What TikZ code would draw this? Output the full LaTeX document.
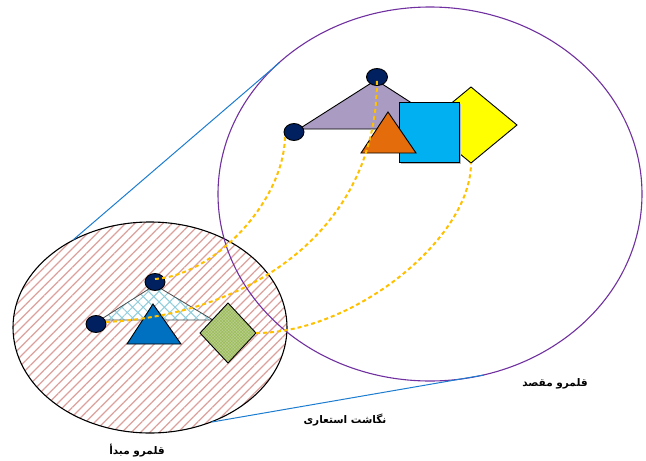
\documentclass[tikz,border=0pt]{standalone}
\usepackage{fontspec}
\newfontfamily\arabicfont[Script=Arabic]{DejaVu Sans}
\TeXXeTstate=1
\usetikzlibrary{patterns.meta}
\definecolor{purpleline}{HTML}{7030A0}
\definecolor{blueline}{HTML}{1C7CD0}
\definecolor{hatchred}{HTML}{DCA09C}
\definecolor{navy}{HTML}{002060}
\definecolor{lavender}{HTML}{A99BC1}
\definecolor{orangef}{HTML}{E46C0A}
\definecolor{cyanf}{HTML}{00B0F0}
\definecolor{yellowf}{HTML}{FFFF00}
\definecolor{bluetri}{HTML}{0070C0}
\definecolor{greenf}{HTML}{B9CF8E}
\definecolor{greendot}{HTML}{9BBB59}
\definecolor{crossblue}{HTML}{92CDDC}
\definecolor{gold}{HTML}{FFC000}
\tikzset{
  shapeline/.style={draw=black, line width=0.9pt},
  dot/.style={shapeline, fill=navy},
  mapcurve/.style={draw=gold, line width=2pt, dash pattern=on 4pt off 3pt},
  tangent/.style={draw=blueline, line width=1pt},
  lab/.style={font=\arabicfont\bfseries\fontsize{10.5}{12}\selectfont, inner sep=0pt}
}
\begin{document}
\begin{tikzpicture}[x=1pt,y=-1pt]
\useasboundingbox (0,0) rectangle (646,461);

% source domain ellipse
\path[pattern={Lines[angle=45,distance=6.6pt,line width=1.2pt]}, pattern color=hatchred]
  (150,327.5) ellipse [x radius=137, y radius=105.5];
\draw[line width=1.1pt] (150,327.5) ellipse [x radius=137, y radius=105.5];

% target domain ellipse
\draw[purpleline, line width=1.1pt] (430,194) ellipse [x radius=212, y radius=187];

% tangent lines
\coordinate (t1a) at (73,240);
\coordinate (t1b) at (279,63);
\coordinate (t2a) at (212,422);
\coordinate (t2b) at (484,375);
\draw[tangent] (t1a) -- (t1b);
\draw[tangent] (t2a) -- (t2b);

% target shapes
\draw[shapeline, fill=lavender] (299,129) -- (376,80) -- (452,129) -- cycle;
\draw[shapeline, fill=yellowf] (471,87) -- (517,125) -- (471,163) -- (425,125) -- cycle;
\fill[gray!55] (401,104) rectangle (461,164);
\draw[shapeline, fill=cyanf] (399,102) rectangle (459,162);
\draw[shapeline, fill=orangef] (361,153) -- (388,112) -- (416,153) -- cycle;
\draw[dot] (377,77) ellipse [x radius=10.5, y radius=8.5];
\draw[dot] (294,132) ellipse [x radius=10, y radius=8.5];

% source shapes
\fill[white] (100,320) -- (155,285) -- (213,320) -- cycle;
\fill[pattern={Hatch[angle=45,distance=7.5pt,line width=1pt]}, pattern color=crossblue]
  (100,320) -- (155,285) -- (213,320) -- cycle;
\draw[draw=black!70, line width=0.8pt] (100,320) -- (155,285) -- (213,320) -- cycle;
\draw[dot] (155,282) ellipse [x radius=10, y radius=8.5];
\draw[dot] (96,324) ellipse [x radius=10, y radius=8.5];
\draw[shapeline, fill=bluetri] (127,344) -- (153,304) -- (181,344) -- cycle;
\fill[greenf] (228,303) -- (256,333) -- (228,363) -- (200,333) -- cycle;
\fill[pattern={Hatch[angle=45,distance=2.2pt,line width=0.5pt]}, pattern color=greendot]
  (228,303) -- (256,333) -- (228,363) -- (200,333) -- cycle;
\draw[shapeline] (228,303) -- (256,333) -- (228,363) -- (200,333) -- cycle;

% mapping curves
\coordinate (sA) at (155,279);
\coordinate (eA) at (285,135);
\coordinate (sB) at (106,322);
\coordinate (eB) at (377,80);
\coordinate (sC) at (256,333);
\coordinate (eC) at (471,163);
\draw[mapcurve] (sA) .. controls (215,275) and (285,200) .. (eA);
\draw[mapcurve] (sB) .. controls (250,315) and (377,230) .. (eB);
\draw[mapcurve] (sC) .. controls (353,333) and (471,239) .. (eC);

% labels
\node[lab] (target) at (555,384) {\beginR قلمرو مقصد\endR};
\node[lab] (mapping) at (345,420) {\beginR نگاشت استعاری\endR};
\node[lab] (source) at (137,451) {\beginR قلمرو مبدأ\endR};
\end{tikzpicture}
\end{document}
